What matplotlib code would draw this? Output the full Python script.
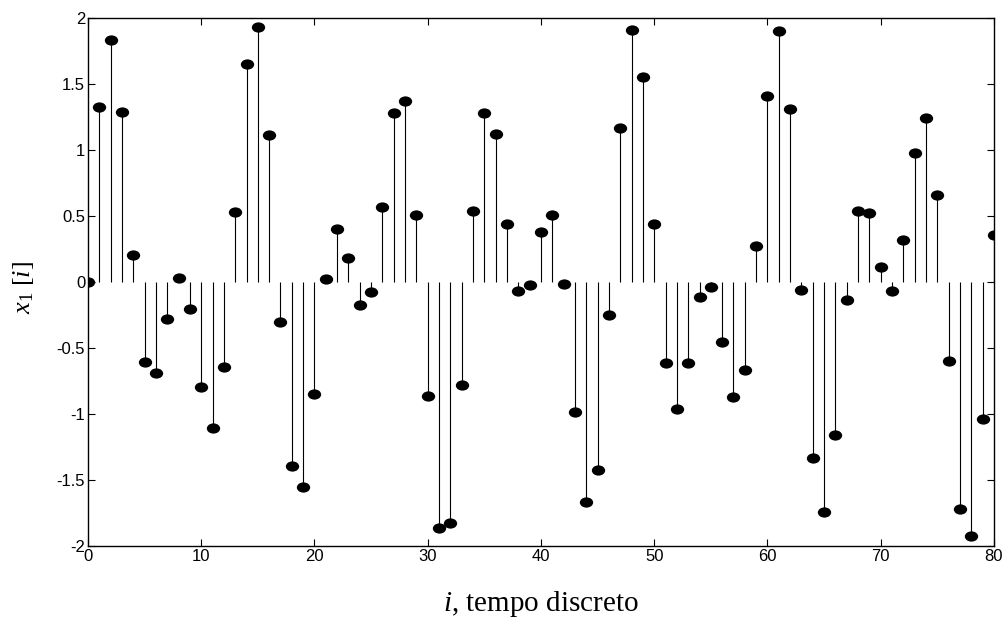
import matplotlib
matplotlib.use("Agg")
import matplotlib.pyplot as plt
import numpy as np
from matplotlib.path import Path
from matplotlib.transforms import Affine2D


# x1[i], i = 0..80
x1_values = [
    0.0, 1.33, 1.835, 1.29, 0.205, -0.605, -0.69, -0.283, 0.03, -0.207,
    -0.793, -1.106, -0.64, 0.53, 1.65, 1.935, 1.114, -0.30, -1.396, -1.55,
    -0.851, 0.02, 0.40, 0.18, -0.17, -0.078, 0.573, 1.285, 1.37, 0.51,
    -0.861, -1.864, -1.823, -0.783, 0.538, 1.278, 1.124, 0.444, -0.071, -0.02,
    0.379, 0.51, -0.018, -0.987, -1.667, -1.422, -0.247, 1.167, 1.914, 1.558,
    0.444, -0.614, -0.962, -0.614, -0.111, -0.038, -0.452, -0.869, -0.664, 0.275,
    1.407, 1.907, 1.311, -0.063, -1.336, -1.745, -1.157, -0.139, 0.538, 0.523,
    0.114, -0.071, 0.318, 0.98, 1.242, 0.657, -0.596, -1.717, -1.924, -1.038,
    0.354,
]
sample_index = np.arange(len(x1_values))

x_ticks = [0, 10, 20, 30, 40, 50, 60, 70, 80]
y_ticks = [-2, -1.5, -1, -0.5, 0, 0.5, 1, 1.5, 2]
y_tick_labels = ["-2", "-1.5", "-1", "-0.5", "0", "0.5", "1", "1.5", "2"]

plt.rcParams["mathtext.fontset"] = "custom"
plt.rcParams["mathtext.rm"] = "Liberation Serif"
plt.rcParams["mathtext.it"] = "Liberation Serif:italic"

# flattened ellipse marker like the stretched MATLAB stem dots
ellipse = Path.unit_circle().transformed(Affine2D().scale(1.3, 1.0))

fig = plt.figure(figsize=(10.04, 6.18), dpi=100)
ax = fig.add_axes([0.0876, 0.1165, 0.9024, 0.854])

markerline, stemlines, baseline = ax.stem(sample_index, x1_values, linefmt="k-", basefmt=" ")
stemlines.set_linewidth(0.8)
markerline.set_marker(ellipse)
markerline.set_markersize(9.6)
markerline.set_color("black")
markerline.set_markeredgewidth(0)
baseline.set_visible(False)

ax.set_xlim(0, 80)
ax.set_ylim(-2, 2)
ax.set_xticks(x_ticks)
ax.set_yticks(y_ticks)
ax.set_yticklabels(y_tick_labels)
ax.tick_params(direction="in", top=True, right=True, length=5, width=0.8, pad=2,
               labelsize=12)
for label in ax.get_xticklabels() + ax.get_yticklabels():
    label.set_family("Liberation Sans")
for spine in ax.spines.values():
    spine.set_linewidth(1.0)

ax.set_xlabel(r"$i$, tempo discreto", family="Liberation Serif", fontsize=21)
ax.set_ylabel(r"$x_{\mathit{1}}\ [i]$", family="Liberation Serif", fontsize=19)
ax.xaxis.set_label_coords(0.5, -0.081)
ax.yaxis.set_label_coords(-0.057, 0.489)

fig.savefig("out.png", dpi=100)
plt.close(fig)
